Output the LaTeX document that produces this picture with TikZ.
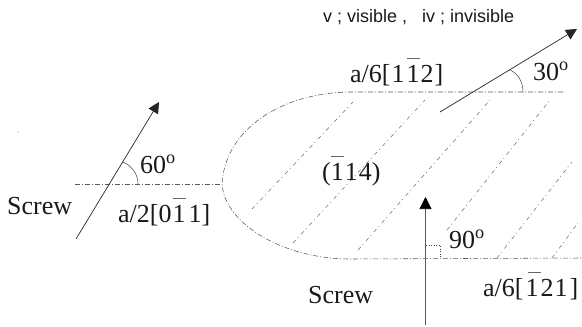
\documentclass[tikz,border=0pt]{standalone}
\usepackage{fontspec}
\usepackage{xcolor}
\setmainfont{Liberation Serif}
\newfontfamily\lblsans{Liberation Sans}
\usetikzlibrary{arrows.meta}
\newcommand{\ob}[2][0em]{\leavevmode\rlap{\hspace*{#1}\raisebox{0.92em}{\textcolor{black!60}{\rule{0.5em}{0.4pt}}}}#2}
\begin{document}
\begin{tikzpicture}[x=1pt,y=-1pt,
  thin line/.style={line width=0.5pt,black!75},
  dash line/.style={line width=0.55pt,black!65,dash pattern=on 5pt off 2pt on 1pt off 2pt},
  traces/.style={line width=0.5pt,black!60,dash pattern=on 4pt off 3pt on 1pt off 4pt},
  vec/.style={line width=0.7pt,black!85,-{Triangle[length=11pt,width=11pt]}},
  lab/.style={font=\fontsize{26}{28}\selectfont,inner sep=0pt,text=black!90,anchor=base west},
  sm/.style={font=\lblsans\fontsize{18}{20}\selectfont,inner sep=0pt,text=black!90,anchor=base west}]
\useasboundingbox (0,0) rectangle (582,327);
% dislocation line
\coordinate (L0) at (75,184);
\coordinate (L1) at (222,184);
\coordinate (T1) at (563,92);
\coordinate (B1) at (582,258);
\draw[dash line] (L0) -- (L1);
\draw[dash line] (T1) -- (350,92) .. controls (280,93) and (225,130) .. (L1)
   .. controls (225,225) and (285,259) .. (350,259) -- (B1);
% slip traces
\coordinate (a1) at (252,209); \coordinate (a2) at (353,102);
\coordinate (b1) at (293,243); \coordinate (b2) at (425,100);
\coordinate (c1) at (358,250); \coordinate (c2) at (490,100);
\coordinate (d1) at (447,230); \coordinate (d2) at (550,100);
\coordinate (e1) at (497,258); \coordinate (e2) at (572,162);
\coordinate (f1) at (552,258); \coordinate (f2) at (578,223);
\foreach \p/\q in {a1/a2,b1/b2,c1/c2,d1/d2,e1/e2,f1/f2}
  \draw[traces] (\p) -- (\q);
% Burgers vectors
\coordinate (v1s) at (76,239); \coordinate (v1e) at (159,102);
\coordinate (v2s) at (440,112); \coordinate (v2e) at (577,29);
\coordinate (v3s) at (425.5,325); \coordinate (v3e) at (425.5,197);
\draw[vec] (v1s) -- (v1e);
\draw[vec] (v2s) -- (v2e);
\draw[vec,black!65,-{Triangle[length=12pt,width=12pt,color=black]}] (v3s) -- (v3e);
% angle marks
\draw[thin line] (123,162) .. controls (132,166) and (138,174) .. (138,184);
\draw[thin line] (510,70) .. controls (519,74) and (523,83) .. (523,92);
\draw[thin line,dotted] (426,245) -- (440,245) -- (440,258);
% labels
\node[sm] (title) at (323,22) {v ; visible ,\ \ \ iv ; invisible};
\node[lab] (t1) at (350,82) {a/6[\kern1pt 1\kern2pt\ob{1}\kern1pt 2\kern1pt]};
\node[lab] (t2) at (118,222) {a/2[0\kern1pt\ob{1}\kern3pt 1]};
\node[lab] (t3) at (483,296) {a/6[\kern2pt\ob[0.1em]{1}\kern2pt 2\kern1pt 1\kern2pt]};
\node[lab] (s1) at (7,214) {Screw};
\node[lab] (s2) at (308,303) {Screw};
\node[lab] (pl) at (322,180) {(\ob{1}\kern1pt 1\kern1pt 4)};
\node[lab] (a60) at (140,173) {60$^{\rm o}$};
\node[lab] (a30) at (533,80) {30$^{\rm o}$};
\node[lab] (a90) at (449,248) {90$^{\rm o}$};
\fill[black!70] (18,132) circle (0.5pt);
\end{tikzpicture}
\end{document}
